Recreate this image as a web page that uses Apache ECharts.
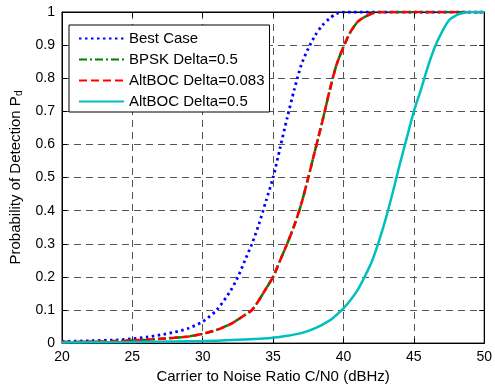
<!DOCTYPE html>
<html>
<head>
<meta charset="utf-8">
<script src="https://cdn.jsdelivr.net/npm/echarts@6/dist/echarts.min.js"></script>
<style>html,body{margin:0;padding:0;background:#fff;}#c{width:495px;height:389px;}</style>
</head>
<body>
<div id="c"></div>
<script>
var seriesNames = ['Best Case', 'BPSK Delta=0.5', 'AltBOC Delta=0.083', 'AltBOC Delta=0.5'];
var xTicks = [20, 25, 30, 35, 40, 45, 50];
var yTicks = [0, 0.1, 0.2, 0.3, 0.4, 0.5, 0.6, 0.7, 0.8, 0.9, 1];

var xBest = [20, 22, 24, 25, 26, 27, 28, 29, 30, 31, 32, 32.5, 33, 33.5, 34, 34.5, 35, 35.5, 36, 36.5, 37, 37.5, 38, 38.5, 39, 39.5, 40, 45, 50];
var yBest = [0.005, 0.007, 0.01, 0.013, 0.018, 0.025, 0.033, 0.045, 0.065, 0.10, 0.16, 0.20, 0.25, 0.30, 0.36, 0.43, 0.50, 0.59, 0.68, 0.765, 0.84, 0.89, 0.93, 0.96, 0.98, 0.995, 1, 1, 1];

var xBpsk = [20, 22, 24, 25, 26, 27, 28, 29, 30, 31, 32, 33, 33.5, 34, 34.5, 35, 35.5, 36, 36.5, 37, 37.5, 38, 38.5, 39, 39.5, 40, 40.5, 41, 41.5, 42, 42.5, 45, 50];
var yBpsk = [0.003, 0.004, 0.006, 0.008, 0.01, 0.013, 0.016, 0.02, 0.028, 0.04, 0.058, 0.085, 0.10, 0.13, 0.165, 0.20, 0.25, 0.30, 0.355, 0.42, 0.50, 0.585, 0.67, 0.76, 0.84, 0.895, 0.94, 0.97, 0.985, 0.995, 1, 1, 1];

var xAlt083 = [20, 22, 24, 25, 26, 27, 28, 29, 30, 31, 32, 33, 33.5, 34, 34.5, 35, 35.5, 36, 36.5, 37, 37.5, 38, 38.5, 39, 39.5, 40, 40.5, 41, 41.5, 42, 42.5, 45, 50];
var yAlt083 = [0.003, 0.004, 0.006, 0.008, 0.01, 0.013, 0.016, 0.02, 0.028, 0.04, 0.058, 0.085, 0.10, 0.13, 0.165, 0.20, 0.25, 0.30, 0.355, 0.42, 0.50, 0.585, 0.67, 0.76, 0.84, 0.895, 0.94, 0.97, 0.985, 0.995, 1, 1, 1];

var xAlt05 = [20, 25, 28, 30, 32, 34, 35, 36, 37, 38, 39, 39.5, 40, 40.5, 41, 41.5, 42, 42.5, 43, 43.5, 44, 44.5, 45, 45.5, 46, 46.5, 47, 47.5, 48, 48.5, 49, 50];
var yAlt05 = [0.002, 0.003, 0.005, 0.006, 0.009, 0.013, 0.016, 0.022, 0.03, 0.045, 0.068, 0.085, 0.105, 0.13, 0.16, 0.20, 0.245, 0.305, 0.375, 0.455, 0.54, 0.62, 0.70, 0.765, 0.835, 0.895, 0.94, 0.975, 0.99, 0.997, 1, 1];

function zip(xs, ys) { return xs.map(function (x, i) { return [x, ys[i]]; }); }

var font = 'Liberation Sans, Arial, Helvetica, sans-serif';
var chart = echarts.init(document.getElementById('c'), null, {renderer: 'canvas'});

function mkX(pos, showLabel) {
  return {
    type: 'value', position: pos, min: 20, max: 50, interval: 5,
    axisLine: {show: true, onZero: false, lineStyle: {color: '#000', width: 1}},
    axisTick: {show: true, inside: true, length: 5, lineStyle: {color: '#000'}},
    axisLabel: {show: showLabel, color: '#000', fontSize: 14, fontFamily: font, margin: 7},
    splitLine: {show: showLabel, lineStyle: {color: '#555', type: [7, 5], width: 1}}
  };
}
function mkY(pos, showLabel) {
  return {
    type: 'value', position: pos, min: 0, max: 1, interval: 0.1,
    axisLine: {show: true, onZero: false, lineStyle: {color: '#000', width: 1}},
    axisTick: {show: true, inside: true, length: 5, lineStyle: {color: '#000'}},
    axisLabel: {show: showLabel, color: '#000', fontSize: 14, fontFamily: font, margin: 7,
      formatter: function (v) { return +v.toFixed(1) + ''; }},
    splitLine: {show: showLabel, lineStyle: {color: '#555', type: [7, 5], width: 1}}
  };
}

var xa0 = mkX('bottom', true);
xa0.name = 'Carrier to Noise Ratio C/N0 (dBHz)';
xa0.nameLocation = 'middle';
xa0.nameGap = 25;
xa0.nameTextStyle = {color: '#000', fontSize: 15, fontFamily: font};
var ya0 = mkY('left', true);
ya0.name = 'Probability of Detection P{sub|d}';
ya0.nameLocation = 'middle';
ya0.nameGap = 38;
ya0.nameTextStyle = {color: '#000', fontSize: 15, fontFamily: font,
  rich: {sub: {fontSize: 10, fontFamily: font, color: '#000', verticalAlign: 'bottom', padding: [6, 0, 0, 0]}}};

var colors = ['#0000ff', '#008000', '#ff0000', '#00bfbf'];
var styles = [
  {type: [2.5, 3.5], width: 2.8},
  {type: [8, 3, 2, 3], width: 2.5},
  {type: [8, 4], width: 2.6},
  {type: 'solid', width: 2.5}
];
var datas = [zip(xBest, yBest), zip(xBpsk, yBpsk), zip(xAlt083, yAlt083), zip(xAlt05, yAlt05)];

var series = seriesNames.map(function (n, i) {
  return {
    name: n, type: 'line', data: datas[i], symbol: 'none', showSymbol: false,
    smooth: 0.25, clip: true,
    xAxisIndex: 0, yAxisIndex: 0,
    lineStyle: {color: colors[i], type: styles[i].type, width: styles[i].width},
    itemStyle: {color: colors[i]},
    z: 3 + i, animation: false
  };
});

chart.setOption({
  animation: false,
  backgroundColor: '#fff',
  grid: {left: 62, right: 5, top: 12, bottom: 42, containLabel: false,
    show: true, borderColor: '#000', borderWidth: 1, backgroundColor: 'transparent'},
  xAxis: [xa0, mkX('top', false)],
  yAxis: [ya0, mkY('right', false)],
  legend: {
    show: true, orient: 'vertical', left: 69, top: 25,
    data: seriesNames,
    itemWidth: 45, itemHeight: 14, itemGap: 6, itemTextGap: 6,
    padding: [6, 5, 3, 9],
    backgroundColor: '#fff', borderColor: '#000', borderWidth: 1,
    itemStyle: {opacity: 0},
    textStyle: {color: '#000', fontSize: 15, fontFamily: font}
  },
  series: series
});
</script>
</body>
</html>
